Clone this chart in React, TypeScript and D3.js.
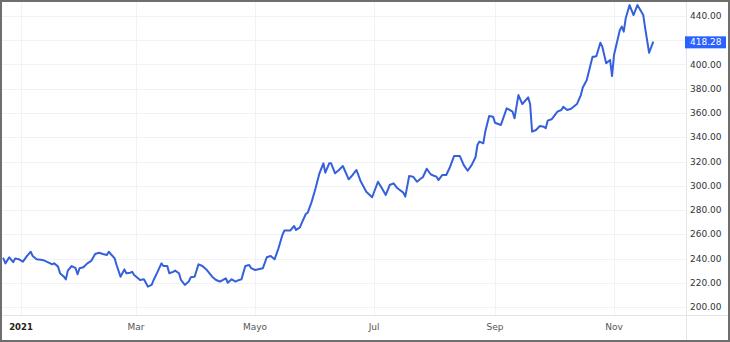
import React from "react";
import * as d3 from "d3";

const dates: string[] = [
  "2020-12-23","2020-12-24","2020-12-26","2020-12-28","2020-12-29","2020-12-31",
  "2021-01-02","2021-01-04","2021-01-06","2021-01-07","2021-01-09","2021-01-12","2021-01-13","2021-01-16","2021-01-17","2021-01-18","2021-01-20","2021-01-21","2021-01-23","2021-01-24","2021-01-25","2021-01-27","2021-01-29","2021-01-30","2021-01-31",
  "2021-02-02","2021-02-04","2021-02-06","2021-02-08","2021-02-10","2021-02-12","2021-02-14","2021-02-15","2021-02-16","2021-02-18","2021-02-19","2021-02-21","2021-02-23","2021-02-24","2021-02-26","2021-02-27","2021-02-28",
  "2021-03-02","2021-03-03","2021-03-05","2021-03-06","2021-03-07","2021-03-09","2021-03-10","2021-03-12","2021-03-14","2021-03-15","2021-03-17","2021-03-18","2021-03-20","2021-03-21","2021-03-23","2021-03-24","2021-03-26","2021-03-28","2021-03-29","2021-03-31",
  "2021-04-02","2021-04-04","2021-04-06","2021-04-09","2021-04-11","2021-04-13","2021-04-16","2021-04-17","2021-04-19","2021-04-21","2021-04-22","2021-04-24","2021-04-26","2021-04-28","2021-04-29",
  "2021-05-01","2021-05-05","2021-05-07","2021-05-09","2021-05-11","2021-05-13","2021-05-15","2021-05-16","2021-05-19","2021-05-21","2021-05-22","2021-05-24","2021-05-25","2021-05-27","2021-05-28","2021-05-30",
  "2021-06-01","2021-06-03","2021-06-05","2021-06-06","2021-06-08","2021-06-09","2021-06-11","2021-06-13","2021-06-15","2021-06-18","2021-06-20","2021-06-22","2021-06-24","2021-06-27","2021-06-30",
  "2021-07-03","2021-07-05","2021-07-07","2021-07-09","2021-07-11","2021-07-13","2021-07-16","2021-07-17","2021-07-19","2021-07-21","2021-07-23","2021-07-25","2021-07-26","2021-07-28","2021-07-30",
  "2021-08-01","2021-08-02","2021-08-03","2021-08-05","2021-08-07","2021-08-09","2021-08-11","2021-08-14","2021-08-16","2021-08-18","2021-08-20","2021-08-22","2021-08-23","2021-08-24","2021-08-26","2021-08-27","2021-08-29","2021-08-31",
  "2021-09-01","2021-09-04","2021-09-05","2021-09-07","2021-09-10","2021-09-11","2021-09-13","2021-09-15","2021-09-18","2021-09-19","2021-09-20","2021-09-22","2021-09-24","2021-09-26","2021-09-27","2021-09-28","2021-09-30",
  "2021-10-03","2021-10-05","2021-10-06","2021-10-08","2021-10-10","2021-10-13","2021-10-15","2021-10-16","2021-10-18","2021-10-21","2021-10-22","2021-10-23","2021-10-25","2021-10-26","2021-10-28","2021-10-30","2021-10-31",
  "2021-11-01","2021-11-04","2021-11-05","2021-11-06","2021-11-07","2021-11-09","2021-11-11","2021-11-13","2021-11-16","2021-11-17","2021-11-19","2021-11-21",
];

const closes: number[] = [
  240, 236, 241, 237, 240, 239.3,
  237.4, 242, 245.6, 242, 239.3, 238.8, 238.2, 236, 235.2, 236, 233.3, 227.8, 225, 222.8, 230, 233.8, 232, 227, 232,
  232.8, 236, 238, 243.7, 244.8, 243.7, 242.9, 245.6, 243.7, 240.2, 234.6, 225, 231, 227.8, 228.3, 229, 226.4,
  223.7, 222.3, 222.8, 220, 216.8, 218.2, 222.3, 229, 236, 233.8, 233.8, 227.8, 229, 230, 227.8, 222.3, 218.2, 221, 224.5, 225,
  235.2, 233.8, 231, 225, 222.3, 221, 223.7, 220, 222.8, 221, 221.8, 222.8, 233.8, 234.6, 232,
  230.5, 232, 241, 242, 239.3, 248.4, 259.4, 263, 263, 266.8, 263.5, 265.7, 269.5, 276.7, 277.8, 286.7,
  297.9, 310.3, 318.5, 310.8, 318.5, 318.5, 310.3, 313, 316.3, 305.3, 308.9, 313, 304.2, 295.1, 290.5,
  303.3, 297.9, 292.4, 300.6, 302, 297.9, 294.3, 291, 308, 307.5, 303.3, 306, 307, 314, 309.5,
  308, 307.5, 304.7, 308.9, 308.9, 315.7, 324.5, 324.5, 317, 312.4, 317, 323.5, 333.6, 336.4, 335, 344.6, 357.5, 357,
  352, 350.1, 354.8, 363.9, 361.1, 355.6, 374.8, 367.4, 372.9, 367.4, 344.6, 346, 349.3, 348.7, 347.4, 353.7, 354.8,
  361.1, 362.5, 365.2, 362.5, 363.5, 367.4, 374.8, 381, 387, 406.4, 406.4, 407, 418, 414.7, 401, 403.7, 390.5,
  407.8, 428.5, 431.2, 427.1, 438.1, 449, 440.8, 449, 440.8, 429.8, 409.7, 418.28,
];

const yTicks: number[] = [200, 220, 240, 260, 280, 300, 320, 340, 360, 380, 400, 420, 440];
const xTickDates: string[] = ["2021-01-01", "2021-03-01", "2021-05-01", "2021-07-01", "2021-09-01", "2021-11-01"];
const xTickLabels: string[] = ["2021", "Mar", "Mayo", "Jul", "Sep", "Nov"];
const lastPrice = 418.28;

const W = 730;
const H = 342;
const plotRight = 686;
const plotBottom = 315;
const FONT = "'DejaVu Sans', Verdana, sans-serif";

export default function App() {
  const parse = d3.utcParse("%Y-%m-%d");
  const x = d3
    .scaleUtc()
    .domain([parse("2021-01-01") as Date, parse("2021-11-01") as Date])
    .range([21, 614]);
  const y = d3.scaleLinear().domain([200, 440]).range([307, 16]);

  const pts = dates.map((d, i) => ({ date: parse(d) as Date, v: closes[i] }));
  const line = d3
    .line<{ date: Date; v: number }>()
    .x((d) => x(d.date))
    .y((d) => y(d.v));

  const py = y(lastPrice);
  // price-scale labels hidden behind the last-price marker (as in the reference)
  const visibleLabels = yTicks.filter((t) => Math.abs(y(t) - py) > 10);

  return (
    <svg
      width={W}
      height={H}
      style={{ position: "absolute", left: 0, top: 0, background: "#fff" }}
      fontFamily={FONT}
    >
      <rect x={0} y={0} width={W} height={H} fill="#fff" />
      {yTicks.map((t) => (
        <line key={"h" + t} x1={2} x2={plotRight} y1={Math.round(y(t)) + 0.5} y2={Math.round(y(t)) + 0.5} stroke="#f0f2f6" strokeWidth={1} />
      ))}
      {xTickDates.map((d) => {
        const xx = Math.round(x(parse(d) as Date)) + 0.5;
        return <line key={"v" + d} x1={xx} x2={xx} y1={2} y2={plotBottom} stroke="#f0f2f6" strokeWidth={1} />;
      })}
      <line x1={plotRight + 0.5} x2={plotRight + 0.5} y1={2} y2={H - 2} stroke="#e3e5ea" strokeWidth={1} />
      <line x1={2} x2={W - 2} y1={plotBottom + 0.5} y2={plotBottom + 0.5} stroke="#e3e5ea" strokeWidth={1} />

      <path d={line(pts) || ""} fill="none" stroke="#3560dc" strokeWidth={2} strokeLinejoin="round" strokeLinecap="round" />

      {visibleLabels.map((t) => (
        <text key={"yl" + t} x={690} y={y(t)} dominantBaseline="central" fontSize={9} fill="#333">
          {t.toFixed(2)}
        </text>
      ))}
      {xTickDates.map((d, i) => (
        <text
          key={"xl" + d}
          x={x(parse(d) as Date)}
          y={327}
          textAnchor="middle"
          dominantBaseline="central"
          fontSize={i === 0 ? 8.5 : 9}
          fontWeight={i === 0 ? "bold" : "normal"}
          fill={i === 0 ? "#222" : "#555"}
        >
          {xTickLabels[i]}
        </text>
      ))}

      <rect x={685} y={py - 6} width={41} height={12} fill="#2962ff" />
      <text x={690} y={py} dominantBaseline="central" fontSize={9} fill="#fff">
        {lastPrice.toFixed(2)}
      </text>

      <rect x={1} y={1} width={W - 2} height={H - 2} fill="none" stroke="#6e6e6e" strokeWidth={2} />
    </svg>
  );
}
